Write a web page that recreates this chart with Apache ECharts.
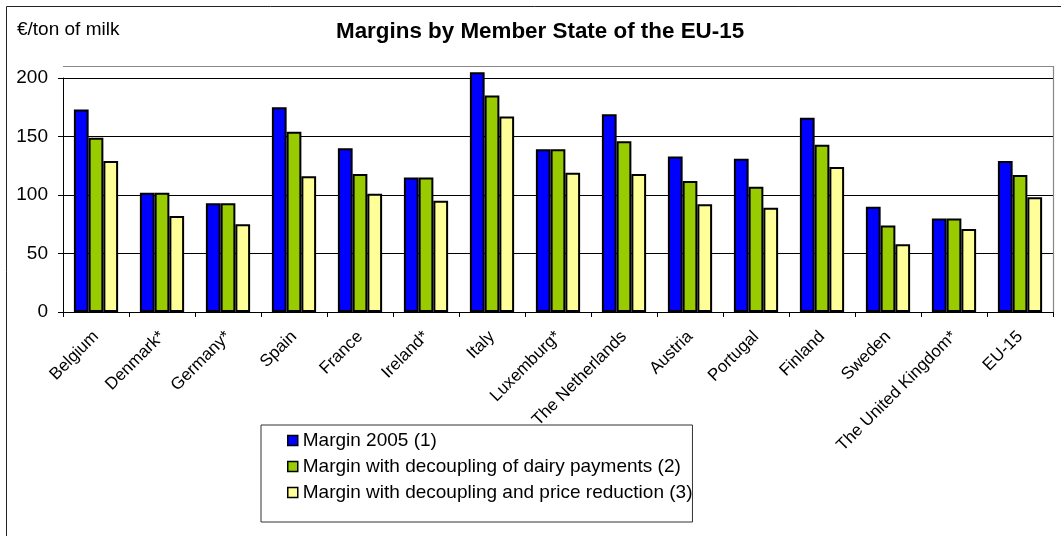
<!DOCTYPE html>
<html>
<head>
<meta charset="utf-8">
<script src="https://cdn.jsdelivr.net/npm/echarts@6/dist/echarts.min.js"></script>
<style>
  html, body { margin: 0; padding: 0; background: #fff; }
  #chart { width: 1061px; height: 536px; }
</style>
</head>
<body>
<div id="chart"></div>
<script>
// Member states (plus the EU-15 average) along the category axis
const categories = ['Belgium', 'Denmark*', 'Germany*', 'Spain', 'France', 'Ireland*', 'Italy',
  'Luxemburg*', 'The Netherlands', 'Austria', 'Portugal', 'Finland', 'Sweden',
  'The United Kingdom*', 'EU-15'];

// Margins in €/ton of milk
const margin2005 = [173, 102, 93, 175, 140, 115, 205, 139, 169, 133, 131, 166, 90, 80, 129];
const marginDecoupling = [149, 102, 93, 154, 118, 115, 185, 139, 146, 112, 107, 143, 74, 80, 117];
const marginDecouplingPrice = [129, 82, 75, 116, 101, 95, 167, 119, 118, 92, 89, 124, 58, 71, 98];

const seriesNames = [
  'Margin 2005 (1)',
  'Margin with decoupling of dairy payments (2)',
  'Margin with decoupling and price reduction (3)'
];
const seriesColors = ['#0000FF', '#99CC00', '#FFFF99'];
const seriesData = [margin2005, marginDecoupling, marginDecouplingPrice];

const yTicks = [0, 50, 100, 150, 200];

const FONT = 'Liberation Sans, Arial, sans-serif';

const chart = echarts.init(document.getElementById('chart'), null, { renderer: 'canvas' });

chart.setOption({
  backgroundColor: '#fff',
  animation: false,
  textStyle: { fontFamily: FONT, color: '#000' },
  title: [
    {
      text: 'Margins by Member State of the EU-15',
      left: 336, top: 21, padding: 0,
      textStyle: { fontFamily: FONT, fontSize: 22.4, fontWeight: 'bold', color: '#000' }
    },
    {
      text: '€/ton of milk',
      left: 17, top: 20, padding: 0,
      textStyle: { fontFamily: FONT, fontSize: 19, fontWeight: 'normal', color: '#000' }
    }
  ],
  graphic: [
    // outer chart frame (runs off the right and bottom edges)
    { type: 'rect', left: 4, top: 4, shape: { width: 1080, height: 560 },
      style: { fill: 'none', stroke: '#222', lineWidth: 1 }, silent: true, z: -1 },
    // plot-area frame: top and right edges
    { type: 'polyline', shape: { points: [[63, 66.5], [1053.5, 66.5], [1053.5, 312]] },
      style: { fill: 'none', stroke: '#888', lineWidth: 1.2 }, silent: true, z: 0 }
  ],
  legend: {
    orient: 'vertical',
    left: 261, top: 425,
    padding: [6, 0, 20, 26],
    itemGap: 7,
    itemWidth: 10, itemHeight: 10,
    icon: 'rect',
    borderColor: '#333', borderWidth: 1,
    itemStyle: { borderColor: '#000', borderWidth: 1.5 },
    textStyle: { fontFamily: FONT, fontSize: 19, color: '#000' },
    data: seriesNames
  },
  grid: { left: 63, right: 8, top: 78, bottom: 224, containLabel: false },
  xAxis: {
    type: 'category',
    data: categories,
    boundaryGap: true,
    axisLine: { lineStyle: { color: '#000', width: 1 } },
    axisTick: { show: true, length: 5, lineStyle: { color: '#000' } },
    axisLabel: {
      interval: 0, rotate: 45, margin: 22,
      fontFamily: FONT, fontSize: 17, color: '#000'
    },
    splitLine: { show: false }
  },
  yAxis: {
    type: 'value',
    min: yTicks[0], max: yTicks[yTicks.length - 1], interval: 50,
    axisLine: { show: true, lineStyle: { color: '#000', width: 1 } },
    axisTick: { show: true, length: 5, lineStyle: { color: '#000' } },
    axisLabel: { margin: 15, fontFamily: FONT, fontSize: 19, color: '#000' },
    splitLine: { show: true, lineStyle: { color: '#000', width: 1 } }
  },
  series: seriesData.map((data, i) => ({
    name: seriesNames[i],
    type: 'bar',
    data: data,
    clip: false,
    barGap: '0%',
    barCategoryGap: '33%',
    itemStyle: { color: seriesColors[i], borderColor: '#000', borderWidth: 2 }
  }))
});
</script>
</body>
</html>
